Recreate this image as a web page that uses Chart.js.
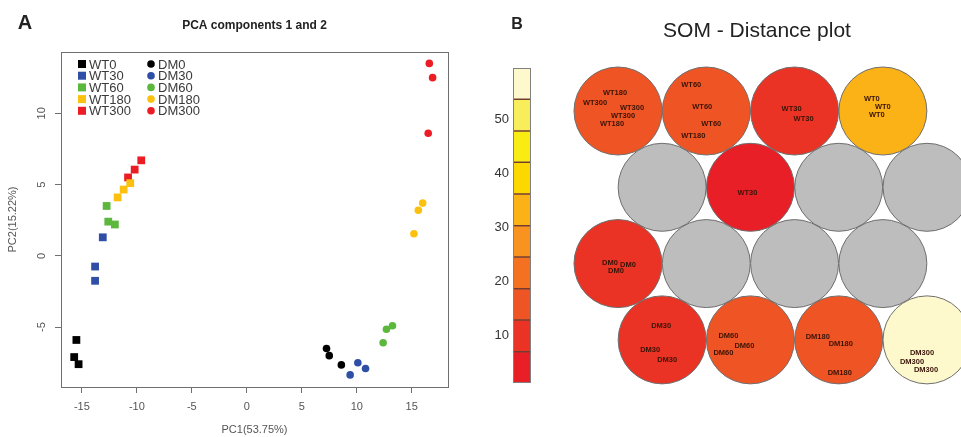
<!DOCTYPE html>
<html lang="en">
<head>
<meta charset="UTF-8">
<title>PCA and SOM distance plot</title>
<script src="https://cdn.jsdelivr.net/npm/chart.js@4"></script>
<style>
  body { margin: 0; background: #fff; }
  #wrap { position: relative; width: 961px; height: 437px; overflow: hidden; }
  canvas { position: absolute; top: 0; }
</style>
</head>
<body>
<div id="wrap">
  <canvas id="pca" width="480" height="437" style="left:0"></canvas>
  <canvas id="bar" width="60" height="437" style="left:490px"></canvas>
  <canvas id="som" width="411" height="437" style="left:550px"></canvas>
</div>
<script>
// ---- panel A: PCA scores ----
const groups = ['0', '30', '60', '180', '300'];
const groupColors = ['#000000', '#2f4fa6', '#5cb73d', '#fcc10e', '#ec1c24'];
const wtX = [[-15.5, -15.7, -15.3], [-13.1, -13.8, -13.8], [-12.75, -12.6, -12.0], [-11.75, -11.2, -10.6], [-10.8, -10.2, -9.6]];
const wtY = [[-5.9, -7.1, -7.6], [1.3, -0.75, -1.75], [3.5, 2.4, 2.2], [4.1, 4.65, 5.1], [5.5, 6.05, 6.7]];
const dmX = [[7.25, 7.5, 8.6], [9.4, 10.1, 10.8], [12.4, 12.7, 13.25], [15.2, 15.6, 16.0], [16.6, 16.9, 16.5]];
const dmY = [[-6.5, -7.0, -7.65], [-8.35, -7.5, -7.9], [-6.1, -5.15, -4.9], [1.55, 3.2, 3.7], [13.5, 12.5, 8.6]];
const pcaTicks = { xMin: -16.9, xMax: 18.3, yMin: -9.2, yMax: 14.3, step: 5 };

// ---- panel B: SOM distance plot ----
const distBreaks = [1.1, 6.9, 12.8, 18.6, 24.5, 30.3, 36.2, 42.1, 47.9, 53.8, 59.6];
const distColors = ['#e81f26', '#ea3324', '#ef5524', '#f37121', '#f7931e', '#fbb217', '#fdd700', '#f9ec12', '#f8ee5c', '#fdf9cc'];
const somCol = [0, 1, 2, 3, 0, 1, 2, 3, 0, 1, 2, 3, 0, 1, 2, 3];
const somRow = [0, 0, 0, 0, 1, 1, 1, 1, 2, 2, 2, 2, 3, 3, 3, 3];
const somDist = [17, 16, 10, 33, null, 3, null, null, 10, null, null, null, 9, 16, 15, 58];
const somLabels = [
  ['WT180', 'WT300', 'WT300', 'WT300', 'WT180'], ['WT60', 'WT60', 'WT60', 'WT180'], ['WT30', 'WT30'], ['WT0', 'WT0', 'WT0'],
  [], ['WT30'], [], [],
  ['DM0', 'DM0', 'DM0'], [], [], [],
  ['DM30', 'DM30', 'DM30'], ['DM60', 'DM60', 'DM60'], ['DM180', 'DM180', 'DM180'], ['DM300', 'DM300', 'DM300']
];
// where each sample name sits inside its unit (px from the centre)
const labelOffsets = [
  [[-3, -18], [-23, -8], [14, -3], [5, 5], [-6, 13]], [[-15, -26], [-4, -4], [5, 13], [-13, 25]], [[-3, -2], [9, 8]], [[-11, -12], [0, -4], [-6, 4]],
  [], [[-3, 6]], [], [],
  [[-8, -1], [10, 1], [-2, 7]], [], [], [],
  [[-1, -14], [-12, 10], [5, 20]], [[-22, -4], [-6, 6], [-27, 13]], [[-21, -3], [2, 4], [1, 33]], [[-5, 13], [-15, 22], [-1, 30]]
];

Chart.defaults.font.family = '"Liberation Sans", Arial, sans-serif';
Chart.defaults.animation = false;
Chart.defaults.events = [];
Chart.defaults.plugins.legend.display = false;
Chart.defaults.plugins.tooltip.enabled = false;

function toPoints(xs, ys) { return xs.map((x, i) => ({ x: x, y: ys[i] })); }

const pcaDatasets = [];
groups.forEach((g, i) => {
  pcaDatasets.push({ label: 'WT' + g, data: toPoints(wtX[i], wtY[i]), pointStyle: 'rect',
    pointRadius: 5.5, backgroundColor: groupColors[i], borderWidth: 0 });
});
groups.forEach((g, i) => {
  pcaDatasets.push({ label: 'DM' + g, data: toPoints(dmX[i], dmY[i]), pointStyle: 'circle',
    pointRadius: 3.8, backgroundColor: groupColors[i], borderWidth: 0 });
});

// box, in-plot legend and headings for panel A
const pcaDecor = {
  id: 'pcaDecor',
  afterDraw(chart) {
    const { ctx, chartArea: a } = chart;
    ctx.save();
    ctx.strokeStyle = '#6f6f6f';
    ctx.lineWidth = 1;
    ctx.strokeRect(a.left + 0.5, a.top + 0.5, a.width, a.height);

    ctx.font = '13px "Liberation Sans", Arial, sans-serif';
    ctx.textBaseline = 'middle';
    chart.data.datasets.forEach((ds, i) => {
      const col = i < 5 ? 0 : 1, row = i % 5;
      const mx = a.left + 21 + col * 69, my = a.top + 12 + row * 11.7;
      ctx.fillStyle = ds.backgroundColor;
      if (ds.pointStyle === 'rect') ctx.fillRect(mx - 4, my - 4, 8, 8);
      else { ctx.beginPath(); ctx.arc(mx, my, 3.8, 0, Math.PI * 2); ctx.fill(); }
      ctx.fillStyle = '#3a3a3a';
      ctx.fillText(ds.label, mx + 7, my + 1);
    });

    ctx.fillStyle = '#222';
    ctx.textAlign = 'center';
    ctx.font = 'bold 12px "Liberation Sans", Arial, sans-serif';
    ctx.fillText('PCA components 1 and 2', (a.left + a.right) / 2, 26);
    ctx.font = 'bold 20px "Liberation Sans", Arial, sans-serif';
    ctx.fillText('A', 25, 23);
    ctx.restore();
  }
};

new Chart(document.getElementById('pca'), {
  type: 'scatter',
  data: { datasets: pcaDatasets },
  options: {
    responsive: false,
    devicePixelRatio: 1,
    layout: { padding: { top: 52, right: 32, left: 0, bottom: 0 } },
    scales: {
      x: {
        min: pcaTicks.xMin, max: pcaTicks.xMax,
        ticks: { stepSize: pcaTicks.step, includeBounds: false, maxRotation: 0, padding: 7,
          color: '#555', font: { size: 11 } },
        grid: { drawOnChartArea: false, tickLength: 6, color: '#6f6f6f' },
        border: { display: false },
        title: { display: true, text: 'PC1(53.75%)', color: '#555', font: { size: 11 }, padding: { top: 0, bottom: 0 } },
        afterFit(scale) { scale.height = 50; }
      },
      y: {
        min: pcaTicks.yMin, max: pcaTicks.yMax,
        ticks: { stepSize: pcaTicks.step, includeBounds: false, minRotation: 90, maxRotation: 90,
          crossAlign: 'center', padding: 7, color: '#555', font: { size: 11 } },
        grid: { drawOnChartArea: false, tickLength: 6, color: '#6f6f6f' },
        border: { display: false },
        title: { display: true, text: 'PC2(15.22%)', color: '#555', font: { size: 11 }, padding: { top: 6, bottom: 0 } },
        afterFit(scale) { scale.width = 61; }
      }
    }
  },
  plugins: [pcaDecor]
});

// ---- colour key ----
const keyDecor = {
  id: 'keyDecor',
  afterDraw(chart) {
    const { ctx, chartArea: a } = chart;
    ctx.save();
    ctx.strokeStyle = '#808080';
    ctx.strokeRect(a.left + 0.5, a.top + 0.5, a.width - 1, a.height - 1);
    ctx.fillStyle = '#222';
    ctx.font = 'bold 16px "Liberation Sans", Arial, sans-serif';
    ctx.textAlign = 'center';
    ctx.textBaseline = 'middle';
    ctx.fillText('B', 27, 25);
    ctx.restore();
  }
};

new Chart(document.getElementById('bar'), {
  type: 'bar',
  data: {
    labels: [''],
    datasets: distColors.map((c, i) => ({
      data: [[distBreaks[i], distBreaks[i + 1]]],
      backgroundColor: c,
      borderColor: 'rgba(95, 35, 20, 0.85)',
      borderWidth: 1,
      borderSkipped: false,
      grouped: false,
      barPercentage: 1,
      categoryPercentage: 1
    }))
  },
  options: {
    responsive: false,
    devicePixelRatio: 1,
    layout: { padding: { top: 68, right: 19, left: 0, bottom: 54 } },
    scales: {
      x: { display: false },
      y: {
        min: distBreaks[0], max: distBreaks[distBreaks.length - 1],
        ticks: { stepSize: 10, includeBounds: false, padding: 4, color: '#333', font: { size: 13 } },
        grid: { display: false, drawTicks: false },
        border: { display: false },
        afterFit(scale) { scale.width = 23; }
      }
    }
  },
  plugins: [keyDecor]
});

// ---- SOM units ----
function distColor(v) {
  if (v === null) return '#bdbdbd';
  for (let i = 0; i < distColors.length; i++) {
    if (v <= distBreaks[i + 1]) return distColors[i];
  }
  return distColors[distColors.length - 1];
}

const somDecor = {
  id: 'somDecor',
  afterDatasetsDraw(chart) {
    const { ctx } = chart;
    const meta = chart.getDatasetMeta(0);
    ctx.save();
    ctx.fillStyle = '#3a1408';
    ctx.font = 'bold 7.5px "Liberation Sans", Arial, sans-serif';
    ctx.textAlign = 'center';
    ctx.textBaseline = 'middle';
    somLabels.forEach((names, i) => {
      const p = meta.data[i];
      names.forEach((name, k) => {
        const off = labelOffsets[i][k];
        ctx.fillText(name, p.x + off[0], p.y + off[1]);
      });
    });
    ctx.fillStyle = '#222';
    ctx.font = '21px "Liberation Sans", Arial, sans-serif';
    ctx.fillText('SOM - Distance plot', 207, 31);
    ctx.restore();
  }
};

new Chart(document.getElementById('som'), {
  type: 'scatter',
  data: {
    datasets: [{
      data: somCol.map((c, i) => ({ x: c + (somRow[i] % 2) * 0.5, y: somRow[i] })),
      backgroundColor: somDist.map(distColor),
      borderColor: '#6e6e6e',
      borderWidth: 1,
      pointRadius: 44,
      clip: false
    }]
  },
  options: {
    responsive: false,
    devicePixelRatio: 1,
    layout: { padding: 0, autoPadding: false },
    scales: {
      x: { display: false, min: -0.77, max: 3.885 },
      y: { display: false, reverse: true, min: -1.455, max: 4.273 }
    }
  },
  plugins: [somDecor]
});
</script>
</body>
</html>
